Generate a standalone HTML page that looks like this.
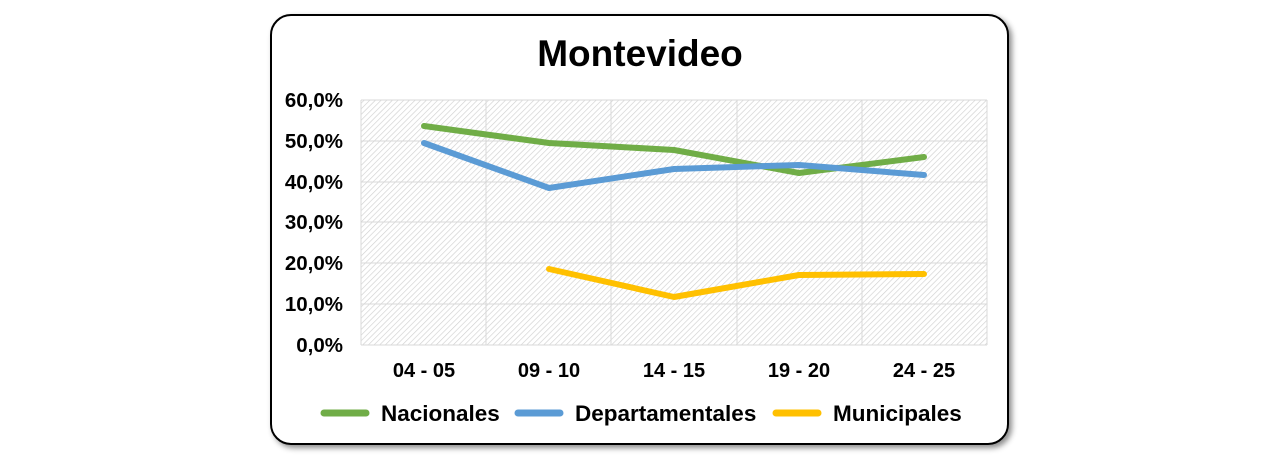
<!DOCTYPE html>
<html><head><style>
body{margin:0;width:1275px;height:458px;background:#fff;overflow:hidden}
svg{position:absolute;left:0;top:0}
text{font-family:"Liberation Sans",Arial,sans-serif;font-weight:bold;fill:#000}
</style></head><body>
<svg width="1275" height="458" viewBox="0 0 1275 458">
<defs>
<pattern id="h" width="4" height="4" patternUnits="userSpaceOnUse" patternTransform="rotate(45)">
<line x1="0" y1="0" x2="0" y2="4" stroke="#d0d0d0" stroke-width="1.3"/>
</pattern>
<filter id="s" x="-5%" y="-5%" width="110%" height="115%"><feDropShadow dx="3" dy="3" stdDeviation="3" flood-color="#000" flood-opacity="0.45"/></filter>
</defs>
<rect x="271" y="15" width="737" height="429" rx="20" fill="#fff" stroke="#000" stroke-width="2" filter="url(#s)"/>
<text x="640" y="66" font-size="37" text-anchor="middle">Montevideo</text>
<rect x="361" y="100" width="626" height="245" fill="url(#h)"/>
<g stroke="#d9d9d9" stroke-width="1">
<line x1="361" y1="100" x2="987" y2="100"/><line x1="361" y1="141" x2="987" y2="141"/>
<line x1="361" y1="182" x2="987" y2="182"/><line x1="361" y1="222" x2="987" y2="222"/>
<line x1="361" y1="263" x2="987" y2="263"/><line x1="361" y1="304" x2="987" y2="304"/>
<line x1="361" y1="345" x2="987" y2="345"/>
<line x1="361" y1="100" x2="361" y2="345"/><line x1="486" y1="100" x2="486" y2="345"/>
<line x1="611" y1="100" x2="611" y2="345"/><line x1="737" y1="100" x2="737" y2="345"/>
<line x1="862" y1="100" x2="862" y2="345"/><line x1="987" y1="100" x2="987" y2="345"/>
</g>
<g font-size="20.5" text-anchor="end">
<text x="343" y="107">60,0%</text><text x="343" y="148">50,0%</text>
<text x="343" y="189">40,0%</text><text x="343" y="229">30,0%</text>
<text x="343" y="270">20,0%</text><text x="343" y="311">10,0%</text>
<text x="343" y="352">0,0%</text>
</g>
<g font-size="20" text-anchor="middle">
<text x="424" y="377">04 - 05</text><text x="549" y="377">09 - 10</text>
<text x="674" y="377">14 - 15</text><text x="799" y="377">19 - 20</text>
<text x="924" y="377">24 - 25</text>
</g>
<g fill="none" stroke-width="6" stroke-linecap="round" stroke-linejoin="round">
<polyline stroke="#70ad47" points="424,126 549,143 674,150 799,173 924,157"/>
<polyline stroke="#5b9bd5" points="424,143 549,188 674,169 799,165 924,175"/>
<polyline stroke="#ffc000" points="549,269 674,297 799,275 924,274"/>
</g>
<g stroke-width="7" stroke-linecap="round">
<line x1="324" y1="413" x2="366" y2="413" stroke="#70ad47"/>
<line x1="518" y1="413" x2="560" y2="413" stroke="#5b9bd5"/>
<line x1="776" y1="413" x2="818" y2="413" stroke="#ffc000"/>
</g>
<g font-size="22.5">
<text x="381" y="421">Nacionales</text>
<text x="575" y="421">Departamentales</text>
<text x="833" y="421">Municipales</text>
</g>
</svg>
</body></html>
